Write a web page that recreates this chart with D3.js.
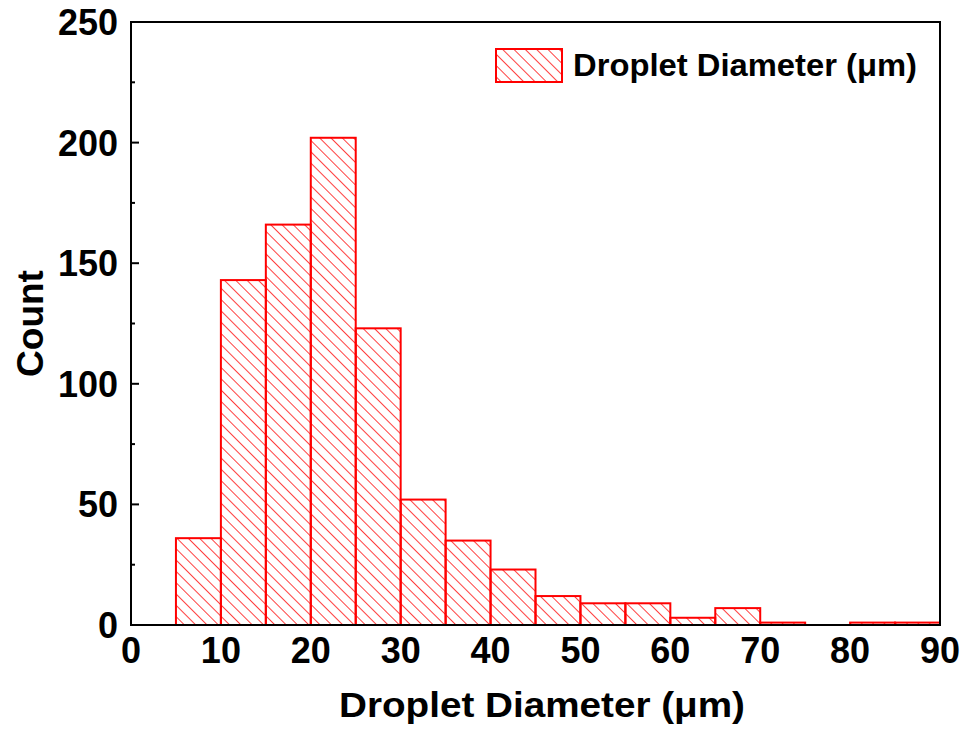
<!DOCTYPE html>
<html>
<head>
<meta charset="utf-8">
<script src="https://cdn.jsdelivr.net/npm/d3@7"></script>
<style>
  body { margin: 0; background: #fff; }
  text { font-family: "Liberation Sans", Arial, sans-serif; font-weight: bold; }
</style>
</head>
<body>
<svg id="chart"></svg>
<script>
// histogram bins (bin start, width 5) and counts
var binStarts = [5, 10, 15, 20, 25, 30, 35, 40, 45, 50, 55, 60, 65, 70, 75, 80, 85];
var counts    = [36, 143, 166, 202, 123, 52, 35, 23, 12, 9, 9, 3, 7, 1, 0, 1, 1];
var binWidth = 5;
var xTicks = [0, 10, 20, 30, 40, 50, 60, 70, 80, 90];
var yTicks = [0, 50, 100, 150, 200, 250];
var yMinor = [25, 75, 125, 175, 225];
var seriesName = "Droplet Diameter (\u03bcm)";
var xTitle = "Droplet Diameter (\u03bcm)";
var yTitle = "Count";

var width = 966, height = 729;
var margin = {left: 131, right: 26, top: 22, bottom: 104};

var svg = d3.select("#chart")
    .attr("width", width)
    .attr("height", height);

var defs = svg.append("defs");
defs.append("pattern")
    .attr("id", "hatch")
    .attr("patternUnits", "userSpaceOnUse")
    .attr("width", 8)
    .attr("height", 8)
    .attr("patternTransform", "rotate(-45)")
    .append("line")
    .attr("x1", 0).attr("y1", 0)
    .attr("x2", 0).attr("y2", 8)
    .attr("stroke", "#ff0000")
    .attr("stroke-width", 1.5);

var x = d3.scaleLinear()
    .domain([0, 90])
    .range([margin.left, width - margin.right]);
var y = d3.scaleLinear()
    .domain([0, 250])
    .range([height - margin.bottom, margin.top]);

// bars
svg.append("g")
    .selectAll("rect")
    .data(binStarts.map((b, i) => ({x0: b, c: counts[i]})))
    .join("rect")
    .attr("x", d => x(d.x0))
    .attr("y", d => y(d.c))
    .attr("width", d => x(d.x0 + binWidth) - x(d.x0))
    .attr("height", d => y(0) - y(d.c))
    .attr("fill", "url(#hatch)")
    .attr("stroke", "#ff0000")
    .attr("stroke-width", 2);

// frame
svg.append("rect")
    .attr("x", x(0))
    .attr("y", y(250))
    .attr("width", x(90) - x(0))
    .attr("height", y(0) - y(250))
    .attr("fill", "none")
    .attr("stroke", "#000")
    .attr("stroke-width", 2);

// y axis: inward ticks
var yAxis = svg.append("g").attr("transform", "translate(" + x(0) + ",0)");
yAxis.selectAll("line.major")
    .data(yTicks)
    .join("line")
    .attr("class", "major")
    .attr("x1", 0).attr("x2", 8)
    .attr("y1", d => y(d)).attr("y2", d => y(d))
    .attr("stroke", "#000").attr("stroke-width", 2);
yAxis.selectAll("line.minor")
    .data(yMinor)
    .join("line")
    .attr("class", "minor")
    .attr("x1", 0).attr("x2", 4)
    .attr("y1", d => y(d)).attr("y2", d => y(d))
    .attr("stroke", "#000").attr("stroke-width", 2);
yAxis.selectAll("text")
    .data(yTicks)
    .join("text")
    .attr("x", -13)
    .attr("y", d => y(d))
    .attr("dy", "0.36em")
    .attr("text-anchor", "end")
    .attr("font-size", 36)
    .text(d => d);

// x axis labels
svg.append("g")
    .selectAll("text")
    .data(xTicks)
    .join("text")
    .attr("x", d => x(d))
    .attr("y", 663)
    .attr("text-anchor", "middle")
    .attr("font-size", 36)
    .text(d => d);

// axis titles
svg.append("text")
    .attr("x", 339)
    .attr("y", 717)
    .attr("font-size", 35)
    .attr("textLength", 406)
    .attr("lengthAdjust", "spacingAndGlyphs")
    .text(xTitle);

svg.append("text")
    .attr("transform", "translate(43," + (y(0) + y(250)) / 2 + ") rotate(-90)")
    .attr("text-anchor", "middle")
    .attr("font-size", 37)
    .text(yTitle);

// legend
var lg = svg.append("g");
lg.append("rect")
    .attr("x", 496).attr("y", 49)
    .attr("width", 66).attr("height", 33)
    .attr("fill", "url(#hatch)")
    .attr("stroke", "#ff0000")
    .attr("stroke-width", 2);
lg.append("text")
    .attr("x", 573)
    .attr("y", 76)
    .attr("font-size", 31)
    .attr("textLength", 344)
    .attr("lengthAdjust", "spacingAndGlyphs")
    .text(seriesName);
</script>
</body>
</html>
